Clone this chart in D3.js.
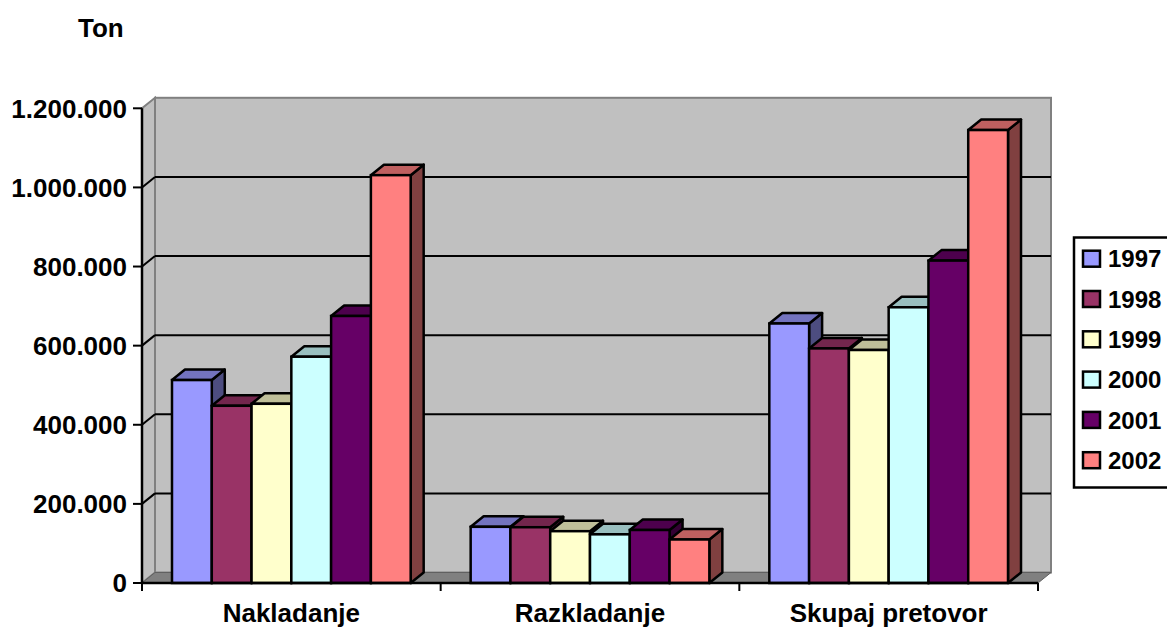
<!DOCTYPE html>
<html>
<head>
<meta charset="utf-8">
<script src="https://cdn.jsdelivr.net/npm/d3@7"></script>
<style>
  html, body { margin: 0; padding: 0; background: #ffffff; }
  svg { display: block; }
  text { font-family: "Liberation Sans", Arial, sans-serif; font-weight: bold; fill: #000; }
</style>
</head>
<body>
<svg id="chart" width="1167" height="628"></svg>
<script>
// Port traffic by operation and year (tons)
const categories = ["Nakladanje", "Razkladanje", "Skupaj pretovor"];
const years = ["1997", "1998", "1999", "2000", "2001", "2002"];
const nakladanje  = [513000, 448000, 453000, 572000, 675000, 1031000];
const razkladanje = [142000, 141000, 131000, 123000, 134000, 110000];
const skupaj      = [656000, 593000, 589000, 697000, 815000, 1145000];
const seriesByCategory = [nakladanje, razkladanje, skupaj];
const yTicks = [0, 200000, 400000, 600000, 800000, 1000000, 1200000];
const colors = ["#9999FF", "#993366", "#FFFFCC", "#CCFFFF", "#660066", "#FF8080"];
const unitLabel = "Ton";

const svg = d3.select("#chart");

// Layout of the pseudo-3D plot
const plotLeft = 142, plotRight = 1038, plotBottom = 583, plotTop = 108.3;
const depthX = 13, depthY = -10.5;

const x = d3.scaleBand().domain(categories).range([plotLeft, plotRight]).paddingInner(0).paddingOuter(0);
const xSeries = d3.scaleBand().domain(years).range([0, x.bandwidth()]).paddingInner(0).paddingOuter(0.754);
const y = d3.scaleLinear().domain([0, 1200000]).range([plotBottom, plotTop]);

const locale = d3.formatLocale({ decimal: ",", thousands: ".", grouping: [3], currency: ["", "€"] });
const fmt = locale.format(",d");

const shade = (c, k) => {
  const col = d3.rgb(c);
  return d3.rgb(col.r * k, col.g * k, col.b * k).formatHex();
};
const poly = pts => pts.map(p => p.join(",")).join(" ");

// Walls and floor
const g = svg.append("g");
// side wall (left)
g.append("polygon")
  .attr("points", poly([[plotLeft, plotBottom], [plotLeft, y(1200000)], [plotLeft + depthX, y(1200000) + depthY], [plotLeft + depthX, plotBottom + depthY]]))
  .attr("fill", "#c0c0c0").attr("stroke", "#808080").attr("stroke-width", 2);
// back wall
g.append("rect")
  .attr("x", plotLeft + depthX).attr("y", y(1200000) + depthY)
  .attr("width", plotRight - plotLeft).attr("height", y(0) - y(1200000))
  .attr("fill", "#c0c0c0").attr("stroke", "#808080").attr("stroke-width", 2);
// floor
g.append("polygon")
  .attr("points", poly([[plotLeft, plotBottom], [plotRight, plotBottom], [plotRight + depthX, plotBottom + depthY], [plotLeft + depthX, plotBottom + depthY]]))
  .attr("fill", "#808080").attr("stroke", "#606060").attr("stroke-width", 1);

// gridlines on the back wall and side wall
const gridVals = yTicks.filter(v => v > 0 && v < 1200000);
g.selectAll("line.grid").data(gridVals).enter().append("line")
  .attr("class", "grid")
  .attr("x1", plotLeft + depthX).attr("x2", plotRight + depthX)
  .attr("y1", d => y(d) + depthY).attr("y2", d => y(d) + depthY)
  .attr("stroke", "#000").attr("stroke-width", 2);
g.selectAll("line.gridside").data(gridVals).enter().append("line")
  .attr("class", "gridside")
  .attr("x1", plotLeft).attr("x2", plotLeft + depthX)
  .attr("y1", d => y(d)).attr("y2", d => y(d) + depthY)
  .attr("stroke", "#000").attr("stroke-width", 2);

// bars, drawn left to right so each front face hides its neighbour's side
const bars = svg.append("g");
categories.forEach((cat, ci) => {
  seriesByCategory[ci].forEach((v, si) => {
    const x0 = x(cat) + xSeries(years[si]);
    const x1 = x0 + xSeries.bandwidth();
    const yt = y(v), yb = y(0);
    const c = colors[si];
    bars.append("polygon")
      .attr("points", poly([[x1, yb], [x1, yt], [x1 + depthX, yt + depthY], [x1 + depthX, yb + depthY]]))
      .attr("fill", shade(c, 0.5)).attr("stroke", "#000").attr("stroke-width", 2.5).attr("stroke-linejoin", "round");
    bars.append("polygon")
      .attr("points", poly([[x0, yt], [x1, yt], [x1 + depthX, yt + depthY], [x0 + depthX, yt + depthY]]))
      .attr("fill", shade(c, 0.75)).attr("stroke", "#000").attr("stroke-width", 2.5).attr("stroke-linejoin", "round");
    bars.append("rect")
      .attr("x", x0).attr("y", yt).attr("width", x1 - x0).attr("height", yb - yt)
      .attr("fill", c).attr("stroke", "#000").attr("stroke-width", 2.5);
  });
});

// value axis
const yAxis = svg.append("g");
yAxis.append("line").attr("x1", plotLeft).attr("x2", plotLeft).attr("y1", y(1200000)).attr("y2", plotBottom + 1)
  .attr("stroke", "#000").attr("stroke-width", 2.5);
yAxis.selectAll("line.tick").data(yTicks).enter().append("line")
  .attr("x1", plotLeft - 9).attr("x2", plotLeft).attr("y1", d => y(d)).attr("y2", d => y(d))
  .attr("stroke", "#000").attr("stroke-width", 2);
yAxis.selectAll("text").data(yTicks).enter().append("text")
  .attr("x", 127).attr("y", d => y(d) + 9.3)
  .attr("text-anchor", "end").attr("font-size", 26)
  .text(d => fmt(d));

// category axis
const xAxis = svg.append("g");
xAxis.append("line").attr("x1", plotLeft - 1).attr("x2", plotRight).attr("y1", plotBottom).attr("y2", plotBottom)
  .attr("stroke", "#000").attr("stroke-width", 2.5);
const catEdges = categories.map(c => x(c)).concat([plotRight]);
xAxis.selectAll("line.tick").data(catEdges).enter().append("line")
  .attr("x1", d => d).attr("x2", d => d).attr("y1", plotBottom).attr("y2", plotBottom + 8)
  .attr("stroke", "#000").attr("stroke-width", 2);
xAxis.selectAll("text").data(categories).enter().append("text")
  .attr("x", d => x(d) + x.bandwidth() / 2).attr("y", 621.5)
  .attr("text-anchor", "middle").attr("font-size", 26)
  .text(d => d);

// unit label
svg.append("text").attr("x", 78).attr("y", 37).attr("font-size", 26).text(unitLabel);

// legend
const legend = svg.append("g");
legend.append("rect").attr("x", 1074).attr("y", 237.5).attr("width", 120).attr("height", 250)
  .attr("fill", "#fff").attr("stroke", "#000").attr("stroke-width", 2.5);
years.forEach((yr, i) => {
  const cy = 258.7 + i * 40.3;
  legend.append("rect").attr("x", 1083).attr("y", cy - 8).attr("width", 17).attr("height", 16)
    .attr("fill", colors[i]).attr("stroke", "#000").attr("stroke-width", 2.5);
  legend.append("text").attr("x", 1108).attr("y", cy + 8.6).attr("font-size", 24).text(yr);
});
</script>
</body>
</html>
